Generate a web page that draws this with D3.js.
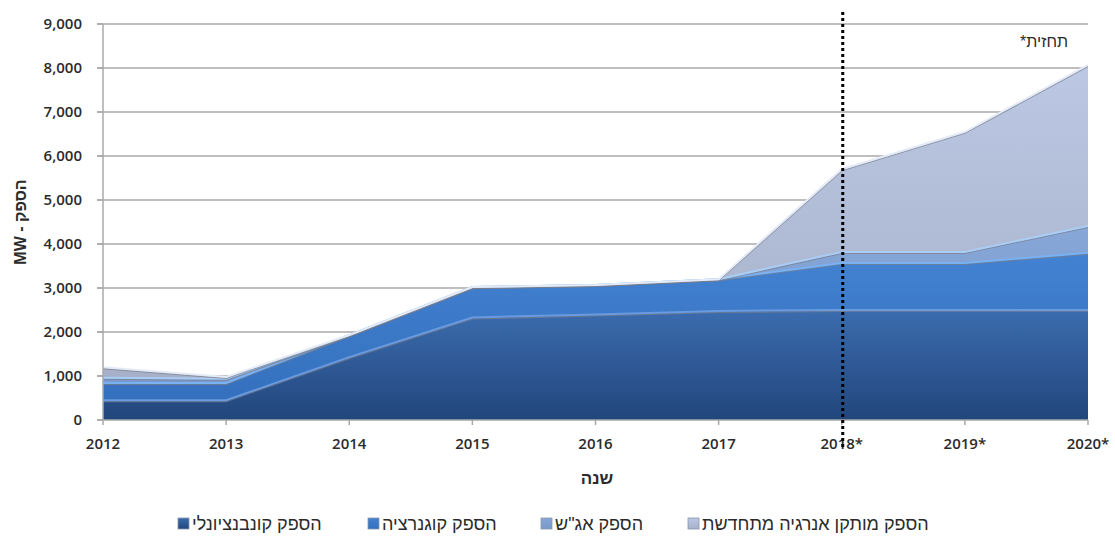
<!DOCTYPE html>
<html><head><meta charset="utf-8">
<script src="https://cdn.jsdelivr.net/npm/d3@7"></script>
<style>
html,body{margin:0;padding:0;background:#fff;}
svg{display:block;}
</style></head>
<body>
<svg id="chart" width="1115" height="536"></svg>
<script>
const years = ["2012","2013","2014","2015","2016","2017","2018*","2019*","2020*"];
const conventional = [450,450,1430,2330,2400,2480,2500,2500,2500];
const cogeneration = [390,390,500,690,670,720,1070,1070,1300];
const pumped = [120,100,0,0,0,0,250,250,610];
const renewable = [240,40,0,0,0,0,1880,2730,3660];
const yTicks = [0,1000,2000,3000,4000,5000,6000,7000,8000,9000];
const seriesNames = ["הספק קונבנציונלי","הספק קוגנרציה","הספק אג\"ש","הספק מותקן אנרגיה מתחדשת"];
const forecastYear = "2018*";
const forecastLabel = "*תחזית";
const xTitle = "שנה";
const yTitle = "MW - הספק";

const keys = ["conv","cogen","pump","ren"];
const rows = years.map((y,i)=>({year:y,conv:conventional[i],cogen:cogeneration[i],pump:pumped[i],ren:renewable[i]}));

const svg = d3.select("#chart");
const x = d3.scalePoint().domain(years).range([103,1088]).padding(0);
const y = d3.scaleLinear().domain([0,9000]).range([420,24]);
const textCol = "#2b2b2b";
const heb = "'Liberation Sans', 'DejaVu Sans', sans-serif";

const grads = [
  {id:"g0", top:"#3b6cae", bot:"#22467c", edge:"#6a9be0"},
  {id:"g1", top:"#4382d2", bot:"#3470bd", edge:"#79b2f2"},
  {id:"g2", top:"#87a7d8", bot:"#7a98cb", edge:"#aacdf5"},
  {id:"g3", top:"#bcc8e4", bot:"#a6b0c8", edge:"#e4ebf7"}
];
const defs = svg.append("defs");
grads.forEach(g=>{
  const lg = defs.append("linearGradient").attr("id",g.id).attr("x1",0).attr("y1",0).attr("x2",0).attr("y2",1);
  lg.append("stop").attr("offset","0%").attr("stop-color",g.top);
  lg.append("stop").attr("offset","100%").attr("stop-color",g.bot);
});

svg.append("g").selectAll("line").data(yTicks.slice(1)).join("line")
  .attr("x1",97).attr("x2",1088).attr("y1",d=>y(d)).attr("y2",d=>y(d))
  .attr("stroke","#a8a8a8").attr("stroke-width",1.5);

const stack = d3.stack().keys(keys);
const stacked = stack(rows);
const area = d3.area().x(d=>x(d.data.year)).y0(d=>y(d[0])).y1(d=>y(d[1]));
const topLine = d3.line().x(d=>x(d.data.year)).y(d=>y(d[1]));
const layers = svg.append("g");
stacked.forEach((s,i)=>{
  layers.append("path").attr("d",area(s)).attr("fill",`url(#${grads[i].id})`);
});
stacked.forEach((s,i)=>{
  layers.append("path").attr("d",topLine(s)).attr("fill","none").attr("stroke","#7a7f8a").attr("stroke-width",1.2).attr("transform","translate(0,1.5)").attr("opacity",0.7);
  layers.append("path").attr("d",topLine(s)).attr("fill","none").attr("stroke",grads[i].edge).attr("stroke-width",2);
});

svg.append("line").attr("x1",103).attr("x2",103).attr("y1",24).attr("y2",420).attr("stroke","#a8a8a8").attr("stroke-width",1.5);
svg.append("line").attr("x1",97).attr("x2",1088).attr("y1",420).attr("y2",420).attr("stroke","#a8a8a8").attr("stroke-width",1.5);
svg.append("g").selectAll("line").data(yTicks).join("line")
  .attr("x1",97).attr("x2",103).attr("y1",d=>y(d)).attr("y2",d=>y(d)).attr("stroke","#a8a8a8").attr("stroke-width",1.5);
svg.append("g").selectAll("line").data(years).join("line")
  .attr("x1",d=>x(d)).attr("x2",d=>x(d)).attr("y1",420).attr("y2",425).attr("stroke","#a8a8a8").attr("stroke-width",1.5);

const fmt = d3.format(",");
svg.append("g").selectAll("text").data(yTicks).join("text")
  .attr("x",82).attr("y",d=>y(d)).attr("dy","0.36em").attr("text-anchor","end")
  .attr("font-family","'Open Sans', 'Liberation Sans', sans-serif").attr("font-size",15).attr("font-weight",600).attr("fill",textCol)
  .text(d=>fmt(d));
svg.append("g").selectAll("text").data(years).join("text")
  .attr("x",d=>x(d)).attr("y",449).attr("text-anchor","middle")
  .attr("font-family","'Open Sans', 'Liberation Sans', sans-serif").attr("font-size",15).attr("font-weight",600).attr("fill",textCol)
  .text(d=>d);

svg.append("text").attr("x",597).attr("y",484).attr("text-anchor","middle")
  .attr("font-family",heb).attr("font-size",17).attr("font-weight","bold").attr("fill",textCol).text(xTitle);
svg.append("text").attr("transform","translate(26,222) rotate(-90)").attr("text-anchor","middle")
  .attr("font-family",heb).attr("font-size",16).attr("font-weight","bold").attr("fill",textCol).text(yTitle);

const fx = x(forecastYear)+1;
svg.append("line").attr("x1",fx).attr("x2",fx).attr("y1",12).attr("y2",447)
  .attr("stroke","#000").attr("stroke-width",3).attr("stroke-dasharray","3,3");
svg.append("text").attr("x",1068).attr("y",47).attr("text-anchor","end")
  .attr("font-family",heb).attr("font-size",16).attr("fill",textCol).text(forecastLabel);

const legendPos = [178,368,541,688];
const lg = svg.append("g");
seriesNames.forEach((n,i)=>{
  const g = lg.append("g").attr("transform",`translate(${legendPos[i]},0)`);
  g.append("rect").attr("x",0).attr("y",518).attr("width",11).attr("height",11)
    .attr("fill",`url(#${grads[i].id})`).attr("stroke","#8a96aa").attr("stroke-width",0.8);
  g.append("text").attr("x",14).attr("y",530).attr("text-anchor","start")
    .attr("font-family",heb).attr("font-size",18).attr("fill",textCol).text(n);
});
</script>
</body></html>
